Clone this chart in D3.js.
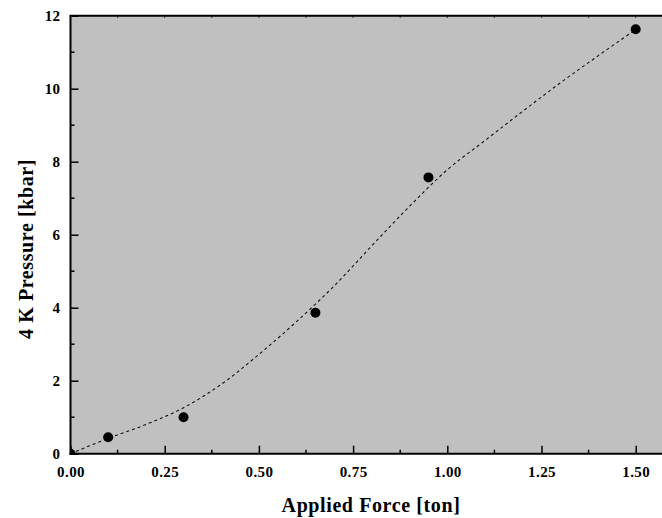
<!DOCTYPE html>
<html><head><meta charset="utf-8">
<script src="https://cdn.jsdelivr.net/npm/d3@7"></script>
<style>body{margin:0;background:#fff}svg{display:block}text{font-family:"Liberation Serif","DejaVu Serif",serif;font-weight:bold;fill:#000}</style>
</head><body><div id="chart"></div>
<script>
const pointsX = [0, 0.1, 0.3, 0.65, 0.95, 1.5];
const pointsY = [0, 0.45, 1.0, 3.86, 7.57, 11.63];
const fitX = [0, 0.1, 0.2, 0.3, 0.4, 0.5, 0.6, 0.7, 0.8, 0.9, 1.0, 1.1, 1.2, 1.3, 1.4, 1.5];
const fitY = [0, 0.42, 0.80, 1.26, 1.90, 2.72, 3.62, 4.60, 5.70, 6.78, 7.78, 8.58, 9.38, 10.16, 10.90, 11.62];
const xTicks = [0, 0.25, 0.5, 0.75, 1.0, 1.25, 1.5];
const yTicks = [0, 2, 4, 6, 8, 10, 12];
const xTitle = "Applied Force [ton]";
const yTitle = "4 K Pressure [kbar]";

const W = 662, H = 518;
const m = {left: 70.5, right: 0, top: 16, bottom: 64.3};
const svg = d3.select("#chart").append("svg").attr("width", W).attr("height", H);
const x = d3.scaleLinear().domain([0, 1.5]).range([m.left, m.left + 376.8 * 1.5]);
const y = d3.scaleLinear().domain([0, 12]).range([453.7, 15.7]);
const xMax = x.invert(W);

svg.append("clipPath").attr("id", "clip").append("rect")
  .attr("x", x(0)).attr("y", y(12)).attr("width", W - x(0)).attr("height", y(0) - y(12));

svg.append("rect").attr("x", x(0)).attr("y", y(12)).attr("width", W - x(0)).attr("height", y(0) - y(12))
  .attr("fill", "#c0c0c0");

const g = svg.append("g").attr("clip-path", "url(#clip)");
const line = d3.line().x((d, i) => x(fitX[i])).y((d, i) => y(fitY[i])).curve(d3.curveCatmullRom);
g.append("path").datum(fitX).attr("d", line).attr("fill", "none")
  .attr("stroke", "#111").attr("stroke-width", 1.1).attr("stroke-dasharray", "3,3");
g.selectAll("circle").data(pointsX).join("circle")
  .attr("cx", (d) => x(d)).attr("cy", (d, i) => y(pointsY[i])).attr("r", 5).attr("fill", "#000");

// bottom axis
const xMinor = d3.range(0.125, xMax, 0.25);
const xAxis = d3.axisBottom(x).tickValues(xTicks).tickFormat(d3.format(".2f")).tickSize(-8).tickPadding(13);
const xa = svg.append("g").attr("transform", `translate(0,${y(0)})`).call(xAxis);
xa.select(".domain").remove();
xa.append("line").attr("x1", x(0) - 1).attr("x2", W).attr("stroke", "#000").attr("stroke-width", 2);
xa.selectAll(".tick line").attr("stroke-width", 1.5);
xa.selectAll(".tick text").attr("font-size", 15).attr("font-family", "Liberation Serif").attr("font-weight", "bold").attr("letter-spacing", 0.4);
xa.selectAll(".minor").data(xMinor).join("line").attr("class", "minor")
  .attr("x1", d => x(d)).attr("x2", d => x(d)).attr("y1", 0).attr("y2", -4).attr("stroke", "#000").attr("stroke-width", 1.5);

// left axis
const yAxis = d3.axisLeft(y).tickValues(yTicks).tickSize(-8).tickPadding(10);
const ya = svg.append("g").attr("transform", `translate(${x(0)},0)`).call(yAxis);
ya.select(".domain").remove();
ya.append("line").attr("y1", y(12)).attr("y2", y(0) + 1).attr("stroke", "#000").attr("stroke-width", 2);
ya.selectAll(".tick line").attr("stroke-width", 1.5);
ya.selectAll(".tick text").attr("font-size", 15).attr("font-family", "Liberation Serif").attr("font-weight", "bold").attr("letter-spacing", 0.4);
ya.selectAll(".minor").data(d3.range(1, 12, 2)).join("line").attr("class", "minor")
  .attr("y1", d => y(d)).attr("y2", d => y(d)).attr("x1", 0).attr("x2", 4).attr("stroke", "#000").attr("stroke-width", 1.5);

// top border
svg.append("line").attr("x1", x(0) - 1).attr("x2", W).attr("y1", y(12)).attr("y2", y(12)).attr("stroke", "#000").attr("stroke-width", 2);
svg.selectAll(".topTick").data(d3.range(0.125, xMax, 0.125)).join("line").attr("class", "topTick")
  .attr("x1", d => x(d)).attr("x2", d => x(d)).attr("y1", y(12)).attr("y2", y(12) + 2).attr("stroke", "#000").attr("stroke-width", 1);

svg.append("text").attr("x", 371).attr("y", 512).attr("text-anchor", "middle").attr("font-size", 20).attr("letter-spacing", 0.6).text(xTitle);
svg.append("text").attr("transform", "translate(33,249) rotate(-90)").attr("text-anchor", "middle").attr("font-size", 20).attr("letter-spacing", 0.6).text(yTitle);
</script></body></html>
